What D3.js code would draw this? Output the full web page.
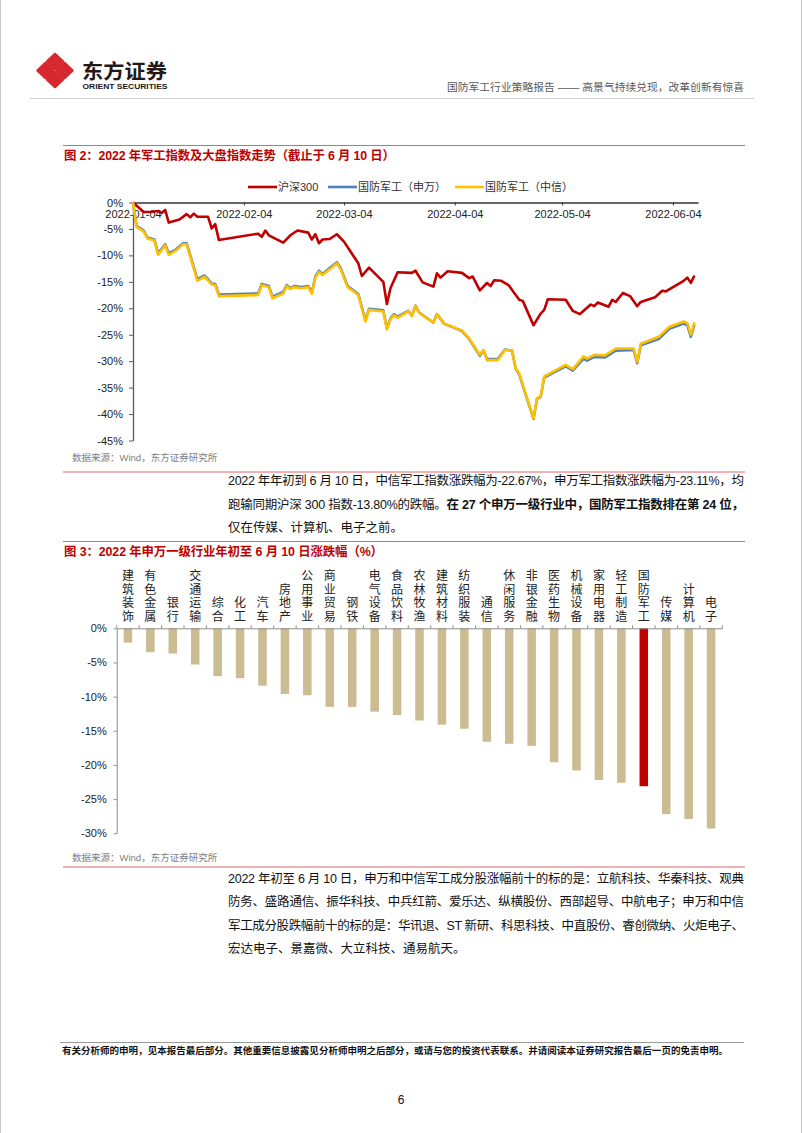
<!DOCTYPE html>
<html><head><meta charset="utf-8">
<script src="https://cdn.jsdelivr.net/npm/d3@7"></script>
<style>
body{margin:0;background:#fff;}
#page{position:relative;width:802px;height:1133px;overflow:hidden;background:#fff;}
#page svg{position:absolute;left:0;top:0;}
.pline{position:absolute;white-space:nowrap;font-size:12.5px;line-height:16px;color:#111;font-family:"Liberation Sans","Noto Sans CJK SC",sans-serif;}
.pline b{font-weight:bold;}
</style></head><body><div id="page"></div>
<script>
// ---------------- DATA ----------------
const tickDates = ["2022-01-04","2022-02-04","2022-03-04","2022-04-04","2022-05-04","2022-06-04"];
const yTicks1 = [0,-5,-10,-15,-20,-25,-30,-35,-40,-45];
const seriesNames = ["沪深300","国防军工（申万）","国防军工（中信）"];

const hs300Dates = ["2022-01-04","2022-01-07","2022-01-09","2022-01-11","2022-01-12","2022-01-13","2022-01-14","2022-01-17","2022-01-19","2022-01-20","2022-01-21","2022-01-22","2022-01-25","2022-01-26","2022-01-27","2022-01-28","2022-02-08","2022-02-09","2022-02-10","2022-02-11","2022-02-15","2022-02-17","2022-02-19","2022-02-22","2022-02-23","2022-02-24","2022-02-25","2022-02-26","2022-02-28","2022-03-02","2022-03-04","2022-03-08","2022-03-09","2022-03-11","2022-03-15","2022-03-16","2022-03-17","2022-03-19","2022-03-23","2022-03-24","2022-03-26","2022-03-29","2022-03-30","2022-03-31","2022-04-02","2022-04-06","2022-04-08","2022-04-09","2022-04-11","2022-04-13","2022-04-14","2022-04-15","2022-04-17","2022-04-19","2022-04-22","2022-04-23","2022-04-26","2022-04-28","2022-04-29","2022-04-30","2022-05-05","2022-05-07","2022-05-09","2022-05-12","2022-05-13","2022-05-14","2022-05-17","2022-05-18","2022-05-19","2022-05-21","2022-05-23","2022-05-25","2022-05-26","2022-05-30","2022-06-01","2022-06-02","2022-06-07","2022-06-08","2022-06-09","2022-06-10"];
const hs300Vals = [0,-1.8,-1.8,-1.6,-2.0,-1.4,-3.8,-3.2,-2.2,-2.8,-2.1,-2.7,-2.7,-4.9,-4.1,-7.1,-5.9,-6.5,-5.3,-6.2,-7.6,-6.2,-5.3,-5.7,-7.0,-6.0,-7.7,-7.0,-6.9,-6.0,-7.4,-11.5,-13.9,-12.3,-15.0,-19.2,-16.2,-13.2,-13.3,-12.9,-15.1,-15.9,-13.4,-14.2,-13.0,-13.3,-14.3,-14.0,-16.6,-15.2,-15.8,-14.7,-14.8,-15.6,-18.4,-18.6,-23.2,-21.0,-20.3,-18.3,-18.4,-20.5,-21.1,-19.3,-19.6,-18.9,-19.7,-18.4,-18.8,-17.1,-17.7,-19.6,-18.8,-17.9,-16.7,-16.8,-14.8,-14.2,-15.2,-13.8];

const milDates = ["2022-01-04","2022-01-05","2022-01-07","2022-01-08","2022-01-10","2022-01-11","2022-01-13","2022-01-14","2022-01-16","2022-01-18","2022-01-19","2022-01-22","2022-01-24","2022-01-26","2022-01-27","2022-01-28","2022-02-08","2022-02-09","2022-02-11","2022-02-12","2022-02-15","2022-02-16","2022-02-17","2022-02-18","2022-02-20","2022-02-22","2022-02-23","2022-02-24","2022-02-25","2022-02-26","2022-02-28","2022-03-02","2022-03-03","2022-03-05","2022-03-08","2022-03-10","2022-03-11","2022-03-15","2022-03-16","2022-03-17","2022-03-18","2022-03-19","2022-03-22","2022-03-23","2022-03-24","2022-03-25","2022-03-29","2022-03-30","2022-04-01","2022-04-06","2022-04-08","2022-04-11","2022-04-12","2022-04-13","2022-04-16","2022-04-18","2022-04-20","2022-04-21","2022-04-22","2022-04-26","2022-04-27","2022-04-28","2022-04-29","2022-05-05","2022-05-07","2022-05-10","2022-05-11","2022-05-13","2022-05-16","2022-05-19","2022-05-24","2022-05-25","2022-05-26","2022-05-31","2022-06-03","2022-06-07","2022-06-08","2022-06-09","2022-06-10"];
const swVals = [0,-4.4,-5.3,-6.6,-7.0,-9.6,-7.9,-9.6,-8.9,-7.7,-7.7,-14.5,-13.8,-15.3,-15.4,-17.4,-17.2,-15.4,-15.8,-17.8,-16.9,-15.6,-16.2,-15.8,-16.0,-15.8,-17.0,-14.0,-12.9,-13.5,-12.4,-11.3,-12.3,-15.8,-17.3,-22.3,-20.1,-20.4,-23.8,-21.9,-21.1,-21.6,-20.5,-21.4,-19.5,-20.8,-22.7,-21.1,-22.9,-24.3,-25.8,-29.0,-28.0,-29.6,-29.6,-27.8,-28.0,-31.4,-32.5,-40.9,-37.1,-36.8,-33.1,-31.0,-31.8,-29.5,-29.9,-29.2,-29.3,-28.0,-27.9,-30.4,-27.0,-25.8,-23.9,-22.9,-23.2,-25.4,-23.11];
const citicVals = [0,-4.6,-5.5,-6.8,-7.2,-9.9,-8.1,-9.9,-9.1,-7.9,-7.9,-14.8,-14.0,-15.5,-15.6,-17.7,-17.5,-15.6,-16.0,-18.1,-17.2,-15.8,-16.4,-16.0,-16.2,-16.0,-17.3,-14.2,-13.1,-13.7,-12.6,-11.5,-12.5,-16.0,-17.5,-22.5,-20.3,-20.6,-24.0,-22.1,-21.3,-21.8,-20.6,-21.5,-19.6,-20.9,-22.7,-21.1,-22.9,-24.2,-25.7,-28.8,-27.9,-29.8,-29.8,-27.9,-28.0,-31.3,-32.3,-40.8,-37.0,-36.7,-32.9,-30.7,-31.5,-29.1,-29.5,-28.8,-28.9,-27.6,-27.6,-30.1,-26.7,-25.4,-23.5,-22.5,-22.8,-25.0,-22.67];

const industries = ["建筑装饰","有色金属","银行","交通运输","综合","化工","汽车","房地产","公用事业","商业贸易","钢铁","电气设备","食品饮料","农林牧渔","建筑材料","纺织服装","通信","休闲服务","非银金融","医药生物","机械设备","家用电器","轻工制造","国防军工","传媒","计算机","电子"];
const industryVals = [-2.1,-3.5,-3.7,-5.3,-7.0,-7.3,-8.4,-9.6,-9.8,-11.5,-11.5,-12.2,-12.7,-13.5,-14.1,-14.7,-16.6,-16.9,-17.2,-19.6,-20.8,-22.2,-22.6,-23.11,-27.2,-27.9,-29.3];
const yTicks2 = [0,-5,-10,-15,-20,-25,-30];
const highlight = "国防军工";

// ---------------- PAGE ----------------
const FONT = '"Liberation Sans","Noto Sans CJK SC",sans-serif';
const page = d3.select("#page");
const svg = page.append("svg").attr("width",802).attr("height",1133).style("font-family",FONT);

// page side borders
svg.append("line").attr("x1",0.5).attr("x2",0.5).attr("y1",0).attr("y2",1133).attr("stroke","#c8c8c8");
svg.append("line").attr("x1",801.5).attr("x2",801.5).attr("y1",0).attr("y2",1133).attr("stroke","#c8c8c8");

// header logo
const logoRed = "#d7282f";
const lg = svg.append("g").attr("fill",logoRed).attr("stroke",logoRed).attr("stroke-width",2.4).attr("stroke-linejoin","round");
[[55,61.5,8,7.5],[45.5,70.5,8,7.5],[64.5,70.5,8,7.5],[55,79.5,8,7.5]].forEach(([cx,cy,hx,hy])=>{
  lg.append("path").attr("d",`M${cx},${cy-hy}L${cx+hx},${cy}L${cx},${cy+hy}L${cx-hx},${cy}Z`);
});
svg.append("text").attr("x",82).attr("y",78.5).attr("font-size",20.5).attr("font-weight","bold")
  .attr("fill","#231815").attr("textLength",85).attr("lengthAdjust","spacingAndGlyphs").text("东方证券");
svg.append("text").attr("x",82.5).attr("y",89).attr("font-size",7.2).attr("font-weight","bold")
  .attr("fill","#231815").attr("textLength",85).attr("lengthAdjust","spacingAndGlyphs").text("ORIENT SECURITIES");
svg.append("text").attr("x",744).attr("y",91).attr("text-anchor","end").attr("font-size",10.5)
  .attr("fill","#595959").attr("textLength",297).attr("lengthAdjust","spacingAndGlyphs")
  .text("国防军工行业策略报告 —— 高景气持续兑现，改革创新有惊喜");
svg.append("line").attr("x1",30).attr("x2",754).attr("y1",98.5).attr("y2",98.5).attr("stroke","#d0d0d0").attr("stroke-width",1.2);

// red rules and titles
const ruleColor = "#e06666", titleColor = "#c00000";
[145.5, 472, 541.5, 867].forEach(y=>{
  svg.append("line").attr("x1",63).attr("x2",745).attr("y1",y).attr("y2",y).attr("stroke",ruleColor).attr("stroke-width",1.2);
});
svg.append("text").attr("x",64).attr("y",159.5).attr("font-size",12.4).attr("font-weight","bold").attr("fill",titleColor)
  .attr("textLength",331).attr("lengthAdjust","spacing")
  .text("图 2：2022 年军工指数及大盘指数走势（截止于 6 月 10 日）");
svg.append("text").attr("x",64).attr("y",555.5).attr("font-size",12.4).attr("font-weight","bold").attr("fill",titleColor)
  .attr("textLength",319).attr("lengthAdjust","spacing")
  .text("图 3：2022 年申万一级行业年初至 6 月 10 日涨跌幅（%）");
[461, 861].forEach(y=>{
  svg.append("text").attr("x",72).attr("y",y).attr("font-size",9.5).attr("fill","#808080").text("数据来源：Wind，东方证券研究所");
});

// ---------------- CHART 1 ----------------
const parse = d3.timeParse("%Y-%m-%d");
const x1 = d3.scaleTime().domain([parse("2022-01-04"), parse("2022-06-11")]).range([133, 698]);
const y1 = d3.scaleLinear().domain([0,-45]).range([202.5, 440.5]);
const c1 = svg.append("g");

const yAx1 = c1.append("g").attr("transform","translate(133,0)")
  .call(d3.axisLeft(y1).tickValues(yTicks1).tickFormat(d=>d+"%").tickSizeInner(4).tickSizeOuter(0).tickPadding(6));
yAx1.select(".domain").attr("stroke","#595959").attr("stroke-width",1.3);
yAx1.selectAll(".tick line").attr("stroke","#595959");
yAx1.selectAll("text").attr("font-size",11).attr("fill","#222").attr("font-family",FONT);

const xAx1 = c1.append("g").attr("transform","translate(0,202.5)")
  .call(d3.axisBottom(x1).tickValues(tickDates.map(parse)).tickFormat(d3.timeFormat("%Y-%m-%d")).tickSizeInner(3).tickSizeOuter(0).tickPadding(5));
xAx1.select(".domain").attr("stroke","#333").attr("stroke-width",1.3);
xAx1.selectAll(".tick line").attr("stroke","#333");
xAx1.selectAll("text").attr("font-size",11).attr("fill","#222").attr("font-family",FONT);

const line1 = d3.line().x(d=>x1(d.date)).y(d=>y1(d.v));
const hsData = hs300Dates.map((d,i)=>({date:parse(d), v:hs300Vals[i]}));
const swData = milDates.map((d,i)=>({date:parse(d), v:swVals[i]}));
const ciData = milDates.map((d,i)=>({date:parse(d), v:citicVals[i]}));
const colors = ["#c00000","#4f81bd","#ffc000"];
[[hsData,colors[0]],[swData,colors[1]],[ciData,colors[2]]].forEach(([data,col])=>{
  c1.append("path").datum(data).attr("d",line1).attr("fill","none").attr("stroke",col)
    .attr("stroke-width",2.6).attr("stroke-linejoin","round");
});

// legend
const legendX = [248, 328, 455];
seriesNames.forEach((n,i)=>{
  const g = c1.append("g").attr("transform",`translate(${legendX[i]},187)`);
  g.append("line").attr("x1",0).attr("x2",29).attr("y1",0).attr("y2",0).attr("stroke",colors[i]).attr("stroke-width",2.6);
  g.append("text").attr("x",30).attr("y",4).attr("font-size",11).attr("fill","#333").text(n);
});

// ---------------- CHART 2 ----------------
const x2 = d3.scaleBand().domain(industries).range([116.7, 722.3]).paddingInner(0.62).paddingOuter(0.31);
const y2 = d3.scaleLinear().domain([0,-30]).range([628.3, 833.3]);
const c2 = svg.append("g");

c2.selectAll("rect.bar").data(industries).join("rect").attr("class","bar")
  .attr("x",d=>x2(d)).attr("width",x2.bandwidth())
  .attr("y",y2(0)).attr("height",(d,i)=>y2(industryVals[i])-y2(0))
  .attr("fill",d=>d===highlight?"#c00000":"#cbbd91");

const yAx2 = c2.append("g").attr("transform","translate(116.7,0)")
  .call(d3.axisLeft(y2).tickValues(yTicks2).tickFormat(d=>d+"%").tickSizeInner(3).tickSizeOuter(0).tickPadding(7));
yAx2.select(".domain").attr("stroke","#8c8c8c").attr("stroke-width",1);
yAx2.selectAll(".tick line").attr("stroke","#8c8c8c");
yAx2.selectAll("text").attr("font-size",11).attr("fill","#222").attr("font-family",FONT);

const xAx2 = c2.append("g").attr("transform",`translate(0,${y2(0)})`)
  .call(d3.axisTop(x2).tickSize(0).tickFormat(""));
xAx2.select(".domain").attr("stroke","#8c8c8c").attr("stroke-width",1);
const gap = (x2.step()-x2.bandwidth())/2;
const bounds = industries.map(d=>x2(d)-gap).concat([x2(industries[industries.length-1])+x2.bandwidth()+gap]);
c2.selectAll("line.bt").data(bounds).join("line").attr("class","bt")
  .attr("x1",d=>d).attr("x2",d=>d).attr("y1",y2(0)-3).attr("y2",y2(0)).attr("stroke","#8c8c8c");

// vertical category labels
industries.forEach(name=>{
  const cx = x2(name)+x2.bandwidth()/2;
  const chars = Array.from(name);
  chars.forEach((ch,j)=>{
    c2.append("text").attr("x",cx).attr("y",620.5-(chars.length-1-j)*13.4)
      .attr("text-anchor","middle").attr("font-size",12).attr("fill","#222").text(ch);
  });
});

// ---------------- TEXT ----------------
function addLine(parts, top, justify){
  const div = page.append("div").attr("class","pline").style("left","228px").style("top",top+"px");
  parts.forEach(p=>{ (p.b?div.append("b"):div.append("span")).text(p.t); });
  if(justify){
    const w = div.node().getBoundingClientRect().width;
    const n = parts.reduce((s,p)=>s+Array.from(p.t).length,0);
    const ls = (516 - w)/(n-1);
    div.style("letter-spacing", ls+"px");
  }
}
const para1 = [
  [[{t:"2022 年年初到 6 月 10 日，中信军工指数涨跌幅为-22.67%，申万军工指数涨跌幅为-23.11%，均"}],true],
  [[{t:"跑输同期沪深 300 指数-13.80%的跌幅。"},{t:"在 27 个申万一级行业中，国防军工指数排在第 24 位，",b:true}],true],
  [[{t:"仅在传媒、计算机、电子之前。"}],false]
];
para1.forEach((l,i)=>addLine(l[0], 473+i*23.6, l[1]));
const para2 = [
  [[{t:"2022 年初至 6 月 10 日，申万和中信军工成分股涨幅前十的标的是：立航科技、华秦科技、观典"}],true],
  [[{t:"防务、盛路通信、振华科技、中兵红箭、爱乐达、纵横股份、西部超导、中航电子；申万和中信"}],true],
  [[{t:"军工成分股跌幅前十的标的是：华讯退、ST 新研、科思科技、中直股份、睿创微纳、火炬电子、"}],true],
  [[{t:"宏达电子、景嘉微、大立科技、通易航天。"}],false]
];
para2.forEach((l,i)=>addLine(l[0], 871+i*23.3, l[1]));

// footer
svg.append("line").attr("x1",60).attr("x2",744).attr("y1",1042.5).attr("y2",1042.5).attr("stroke","#9a9a9a").attr("stroke-width",1.2);
svg.append("text").attr("x",62).attr("y",1053.5).attr("font-size",9.3).attr("font-weight","bold").attr("fill","#111")
  .attr("textLength",666).attr("lengthAdjust","spacingAndGlyphs")
  .text("有关分析师的申明，见本报告最后部分。其他重要信息披露见分析师申明之后部分，或请与您的投资代表联系。并请阅读本证券研究报告最后一页的免责申明。");
svg.append("text").attr("x",401).attr("y",1104).attr("text-anchor","middle").attr("font-size",12).attr("fill","#111").text("6");
</script>
</body></html>
